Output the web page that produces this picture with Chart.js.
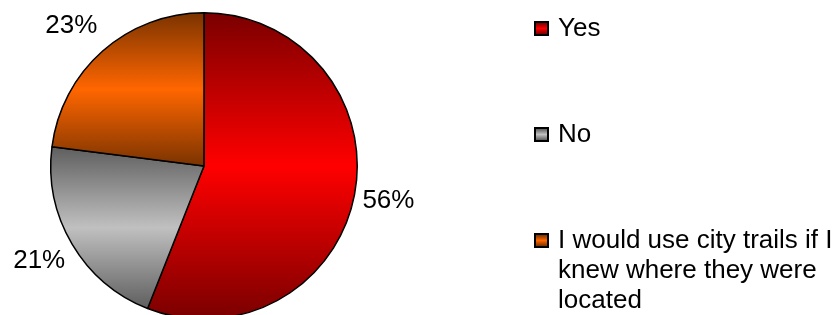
<!DOCTYPE html>
<html>
<head>
<meta charset="utf-8">
<script src="https://cdn.jsdelivr.net/npm/chart.js@4"></script>
<style>
  html, body { margin: 0; padding: 0; background: #fff; }
  #wrap { position: relative; width: 840px; height: 315px; overflow: hidden; }
  #legend {
    position: absolute; left: 534px; top: 12px; width: 306px;
    font-family: "Liberation Sans", Arial, sans-serif; font-size: 26px; line-height: 30px;
    display: flex; flex-direction: column; gap: 76px;
  }
  .item { display: flex; align-items: flex-start; }
  .box {
    flex: none; width: 11px; height: 11px; margin-top: 9px; margin-right: 9px;
    border: 2px solid #000;
  }
  .text { width: 282px; }
</style>
</head>
<body>
<div id="wrap">
  <canvas id="myChart" width="840" height="340"></canvas>
  <div id="legend"></div>
</div>
<script>
const labels = ["Yes", "No", "I would use city trails if I knew where they were located"];
const values = [56, 21, 23];
// dark edge / light middle of each slice's gradient
const darkColors = ["#7a0000", "#5e5e5e", "#7a3300"];
const lightColors = ["#ff0000", "#c0c0c0", "#ff6600"];

// Legend
const legend = document.getElementById("legend");
labels.forEach((label, i) => {
  const item = document.createElement("div");
  item.className = "item";
  const box = document.createElement("div");
  box.className = "box";
  box.style.background = `linear-gradient(${darkColors[i]}, ${lightColors[i]}, ${darkColors[i]})`;
  const text = document.createElement("div");
  text.className = "text";
  text.textContent = label;
  item.appendChild(box);
  item.appendChild(text);
  legend.appendChild(item);
});

// Vertical gradient over each slice's own height
const sliceGradient = {
  id: "sliceGradient",
  beforeDatasetsDraw(chart) {
    const c = chart.ctx;
    chart.getDatasetMeta(0).data.forEach((el, i) => {
      const { x, y, outerRadius, startAngle, endAngle } = el.getProps(
        ["x", "y", "outerRadius", "startAngle", "endAngle"], true);
      const ys = [y, y + outerRadius * Math.sin(startAngle), y + outerRadius * Math.sin(endAngle)];
      for (let k = -2; k <= 2; k++) {
        const top = -Math.PI / 2 + k * 2 * Math.PI;
        const bottom = Math.PI / 2 + k * 2 * Math.PI;
        if (top >= startAngle && top <= endAngle) ys.push(y - outerRadius);
        if (bottom >= startAngle && bottom <= endAngle) ys.push(y + outerRadius);
      }
      const g = c.createLinearGradient(0, Math.min(...ys), 0, Math.max(...ys));
      g.addColorStop(0, darkColors[i]);
      g.addColorStop(0.5, lightColors[i]);
      g.addColorStop(1, darkColors[i]);
      el.options = Object.assign({}, el.options, { backgroundColor: g });
    });
  },
};

// Percent labels outside the pie
const percentLabels = {
  id: "percentLabels",
  afterDatasetsDraw(chart) {
    const c = chart.ctx;
    const total = values.reduce((a, b) => a + b, 0);
    c.save();
    c.font = '26px "Liberation Sans", Arial, sans-serif';
    c.fillStyle = "#000";
    c.textBaseline = "middle";
    chart.getDatasetMeta(0).data.forEach((el, i) => {
      const { x, y, outerRadius, startAngle, endAngle } = el.getProps(
        ["x", "y", "outerRadius", "startAngle", "endAngle"], true);
      const mid = (startAngle + endAngle) / 2;
      const dx = Math.cos(mid), dy = Math.sin(mid);
      const r = outerRadius + 8;
      const px = x + dx * r;
      const py = y + dy * r + dy * 25;
      c.textAlign = dx >= 0 ? "left" : "right";
      c.fillText(Math.round(values[i] / total * 100) + "%", px, py);
    });
    c.restore();
  },
};

const ctx = document.getElementById("myChart").getContext("2d");
new Chart(ctx, {
  type: "pie",
  data: {
    labels: labels,
    datasets: [
      {
        data: values,
        backgroundColor: lightColors,
        borderColor: "#000",
        borderWidth: 1.5,
        hoverOffset: 0,
      },
    ],
  },
  options: {
    responsive: false,
    animation: false,
    layout: { padding: { left: 50, top: 12, right: 482, bottom: 20 } },
    plugins: {
      legend: { display: false },
      tooltip: { enabled: false },
    },
  },
  plugins: [sliceGradient, percentLabels],
});
</script>
</body>
</html>
